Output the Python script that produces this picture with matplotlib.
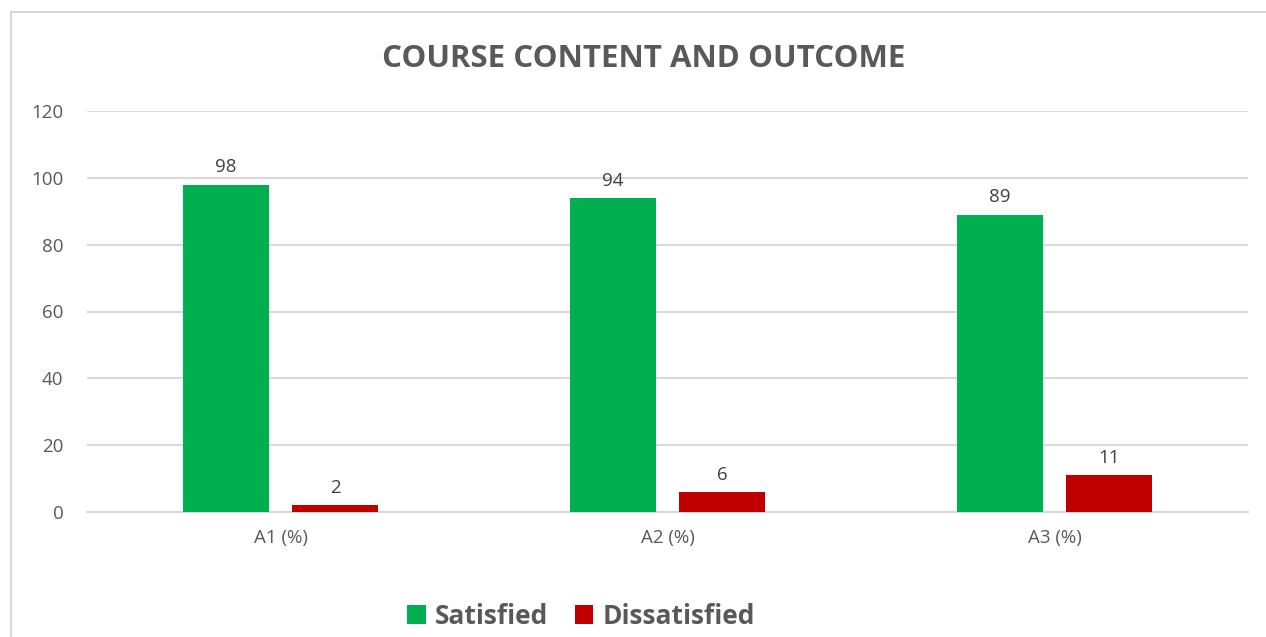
import matplotlib; matplotlib.use('Agg')
import numpy as np
import matplotlib.pyplot as plt
from matplotlib.patches import Rectangle

categories = ['A1 (%)', 'A2 (%)', 'A3 (%)']
satisfied = [98, 94, 89]
dissatisfied = [2, 6, 11]
yticks = [0, 20, 40, 60, 80, 100, 120]

GREEN = '#00B050'
RED = '#C00000'
TXT = '#595959'
GRID = '#D9D9D9'

plt.rcParams['font.family'] = ['Open Sans', 'DejaVu Sans']

fig = plt.figure(figsize=(12.66, 6.37), dpi=100)
ax = fig.add_axes([87/1266, 1 - 512/637, (1248-87)/1266, (512-111)/637])

x = np.arange(len(categories))
w = 0.222
off = 0.142
b1 = ax.bar(x - off, satisfied, w, color=GREEN, label='Satisfied', zorder=3)
b2 = ax.bar(x + off, dissatisfied, w, color=RED, label='Dissatisfied', zorder=3)
for bars in (b1, b2):
    for r in bars:
        ax.annotate(f'{r.get_height():g}', (r.get_x() + r.get_width()/2, r.get_height()),
                    xytext=(0, 6), textcoords='offset points', ha='center', va='bottom',
                    fontsize=13.5, color='#404040')

ax.set_xlim(-0.5, 2.5)
ax.set_ylim(0, 120)
ax.set_yticks(yticks)
ax.yaxis.grid(True, color=GRID, linewidth=1.5, zorder=0)
ax.set_axisbelow(True)
for s in ['top', 'right', 'left']:
    ax.spines[s].set_visible(False)
ax.spines['bottom'].set_color(GRID)
ax.spines['bottom'].set_linewidth(1.5)
ax.set_xticks(x)
ax.set_xticklabels(categories)
ax.tick_params(axis='both', length=0, labelsize=13.5, labelcolor=TXT)
ax.tick_params(axis='x', pad=12)
ax.tick_params(axis='y', pad=17)

fig.text(644/1266, 1 - 59/637, 'COURSE CONTENT AND OUTCOME', ha='center', va='center',
         fontsize=22.5, fontweight='bold', color=TXT)

leg = fig.legend(handles=[b1, b2], loc='center', bbox_to_anchor=(581/1266, 1 - 616/637),
                 ncol=2, frameon=False, fontsize=19, handlelength=0.7, handleheight=0.7,
                 columnspacing=1.0, handletextpad=0.35)
for t in leg.get_texts():
    t.set_color(TXT)
    t.set_fontweight('bold')

fig.patches.append(Rectangle((11/1266, -0.1), 1.2, 1 - 12/637 + 0.1, transform=fig.transFigure,
                             fill=False, edgecolor=GRID, linewidth=1.5))

fig.savefig('out.png', dpi=100)
